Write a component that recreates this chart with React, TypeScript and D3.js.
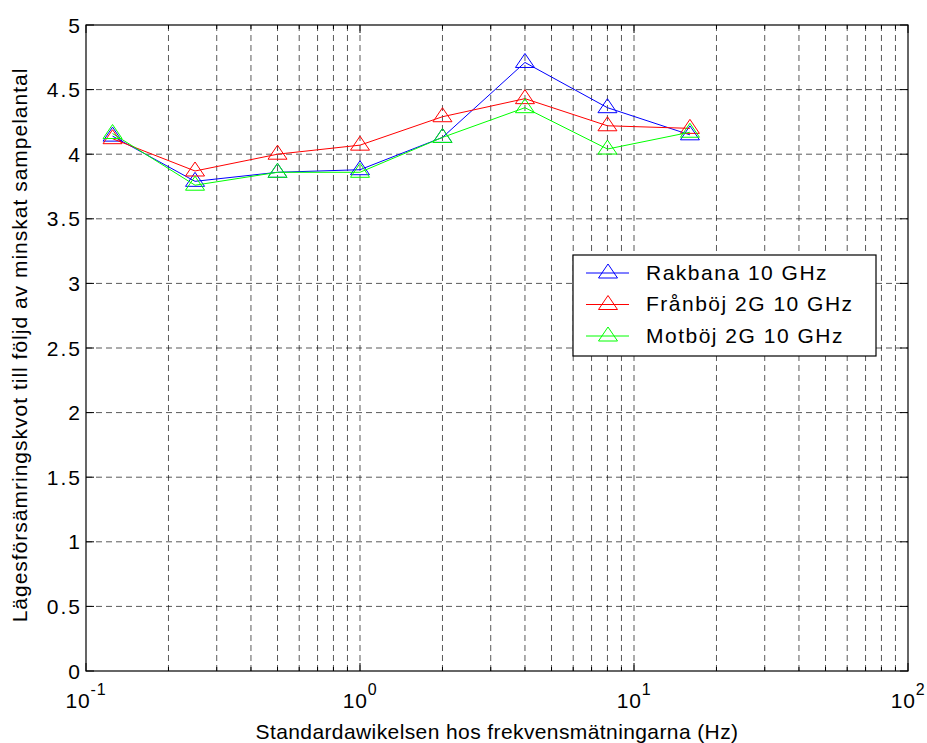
import React from "react";
import * as d3 from "d3";

// measurement points (Hz)
const stdDevs = [0.125, 0.25, 0.5, 1, 2, 4, 8, 16];

const rakbana = [4.14, 3.79, 3.86, 3.88, 4.13, 4.71, 4.36, 4.15];
const franboj = [4.12, 3.87, 4.0, 4.07, 4.29, 4.43, 4.22, 4.2];
const motboj = [4.16, 3.76, 3.86, 3.86, 4.13, 4.36, 4.04, 4.17];

const seriesNames = ["Rakbana 10 GHz", "Frånböj 2G 10 GHz", "Motböj 2G 10 GHz"];
const seriesColors = ["#0000ff", "#ff0000", "#00ff00"];

const yTicks = [0, 0.5, 1, 1.5, 2, 2.5, 3, 3.5, 4, 4.5, 5];
const xDecades = [-1, 0, 1, 2];

const W = 927;
const H = 743;
const margin = { left: 86, right: 19, top: 25, bottom: 72 };
const font = "Arial, 'Liberation Sans', sans-serif";

function Triangle({ x, y, color }: { x: number; y: number; color: string }) {
  // MATLAB '^' marker, data point sits a bit below the middle
  const d = `M${x},${y - 9}L${x + 9.5},${y + 5}L${x - 9.5},${y + 5}Z`;
  return <path d={d} fill="none" stroke={color} strokeWidth={1} />;
}

export default function App() {
  const x0 = margin.left;
  const x1 = W - margin.right;
  const y0 = H - margin.bottom;
  const y1 = margin.top;

  const x = d3.scaleLog().domain([0.1, 100]).range([x0, x1]);
  const y = d3.scaleLinear().domain([0, 5]).range([y0, y1]);

  const allX = x.ticks(); // 0.1,0.2,...,100
  const minorX = allX.filter((v) => {
    const l = Math.log10(v);
    return Math.abs(l - Math.round(l)) > 1e-9;
  });

  const series = [rakbana, franboj, motboj];
  const line = d3
    .line<number>()
    .x((_, i) => x(stdDevs[i]))
    .y((v) => y(v));

  const gridStyle = { stroke: "#000", strokeOpacity: 0.65, strokeDasharray: "6,4", strokeWidth: 1 };

  const legend = { x: 573, y: 255, w: 303, h: 101 };

  return (
    <svg
      width={W}
      height={H}
      style={{ position: "absolute", left: 0, top: 0, background: "#fff" }}
      fontFamily={font}
    >
      <rect x={0} y={0} width={W} height={H} fill="#fff" />

      {/* grid */}
      {allX.filter((v) => v > 0.1 && v < 100).map((v, i) => (
        <line key={"gx" + i} x1={x(v)} x2={x(v)} y1={y0} y2={y1} {...gridStyle} />
      ))}
      {yTicks.filter((v) => v > 0 && v < 5).map((v, i) => (
        <line key={"gy" + i} x1={x0} x2={x1} y1={y(v)} y2={y(v)} {...gridStyle} />
      ))}

      {/* ticks */}
      {yTicks.map((v, i) => (
        <g key={"ty" + i}>
          <line x1={x0} x2={x0 + 8} y1={y(v)} y2={y(v)} stroke="#000" />
          <line x1={x1} x2={x1 - 8} y1={y(v)} y2={y(v)} stroke="#000" />
          <text x={x0 - 4} y={y(v)} dy="0.36em" textAnchor="end" fontSize={21} letterSpacing={2}>
            {v}
          </text>
        </g>
      ))}
      {xDecades.map((p, i) => (
        <g key={"tx" + i}>
          <line x1={x(10 ** p)} x2={x(10 ** p)} y1={y0} y2={y0 - 8} stroke="#000" />
          <line x1={x(10 ** p)} x2={x(10 ** p)} y1={y1} y2={y1 + 8} stroke="#000" />
          <text x={x(10 ** p)} y={y0 + 37} textAnchor="middle" fontSize={21} letterSpacing={0.8}>
            <tspan>10</tspan>
            <tspan dy={-13} fontSize={16}>
              {p}
            </tspan>
          </text>
        </g>
      ))}
      {minorX.map((v, i) => (
        <g key={"mx" + i}>
          <line x1={x(v)} x2={x(v)} y1={y0} y2={y0 - 4} stroke="#000" />
          <line x1={x(v)} x2={x(v)} y1={y1} y2={y1 + 4} stroke="#000" />
        </g>
      ))}

      {/* data */}
      {series.map((s, si) => (
        <g key={"s" + si}>
          <path d={line(s) || ""} fill="none" stroke={seriesColors[si]} strokeWidth={1} />
          {s.map((v, i) => (
            <Triangle key={i} x={x(stdDevs[i])} y={y(v)} color={seriesColors[si]} />
          ))}
        </g>
      ))}

      {/* axes box */}
      <rect x={x0} y={y1} width={x1 - x0} height={y0 - y1} fill="none" stroke="#000" strokeWidth={1.2} />

      {/* legend */}
      <rect x={legend.x} y={legend.y} width={legend.w} height={legend.h} fill="#fff" stroke="#000" strokeWidth={1.2} />
      {seriesNames.map((name, i) => {
        const ly = legend.y + 18 + i * 31.5;
        return (
          <g key={"l" + i}>
            <line x1={legend.x + 13} x2={legend.x + 56} y1={ly} y2={ly} stroke={seriesColors[i]} />
            <Triangle x={legend.x + 35} y={ly} color={seriesColors[i]} />
            <text x={legend.x + 73} y={ly + 6.5} fontSize={21} letterSpacing={1.5}>
              {name}
            </text>
          </g>
        );
      })}

      {/* axis labels */}
      <text x={(x0 + x1) / 2} y={H - 4} textAnchor="middle" fontSize={21} letterSpacing={0.4}>
        Standardawikelsen hos frekvensmätningarna (Hz)
      </text>
      <text
        transform={`translate(${27},${345}) rotate(-90)`}
        textAnchor="middle"
        fontSize={21}
        letterSpacing={1}
      >
        Lägesförsämringskvot till följd av minskat sampelantal
      </text>
    </svg>
  );
}
